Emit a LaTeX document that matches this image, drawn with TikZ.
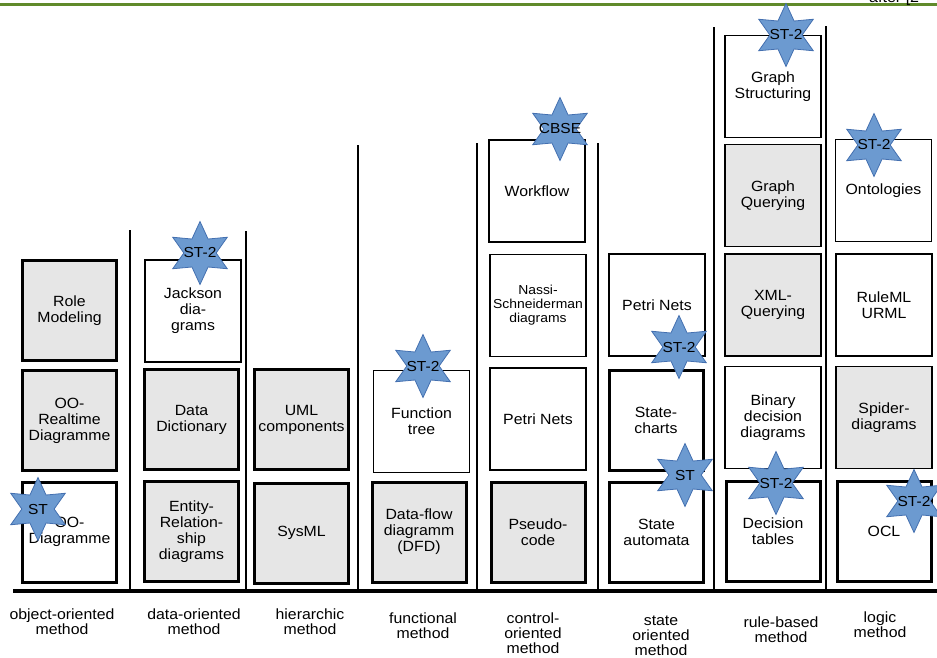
\documentclass[tikz,border=0pt]{standalone}
\usepackage{fontspec}
\setmainfont{Liberation Sans}[FakeStretch=1.07]
\usetikzlibrary{shapes.geometric}

\definecolor{boxgray}{RGB}{230,230,230}
\definecolor{starblue}{RGB}{108,154,208}
\definecolor{starline}{RGB}{68,112,176}
\definecolor{rulegreen}{RGB}{96,138,42}

\tikzset{
	box/.style={draw, align=center, inner sep=0pt, font=\fontsize{14.8}{16}\selectfont},
	thinbox/.style={box, line width=1.1pt, minimum width=96pt, minimum height=102pt},
	boldbox/.style={box, line width=3pt, minimum width=94pt, minimum height=100pt},
	grayfill/.style={fill=boxgray},
	badge/.style={star, star points=6, star point ratio=1.95, minimum size=63pt, inner sep=0pt,
		fill=starblue, draw=starline, line width=0.8pt},
	every label/.style={font=\fontsize{14.5}{15}\selectfont},
	method/.style={align=center, font=\fontsize{14.8}{15}\selectfont},
}

\begin{document}
\begin{tikzpicture}[x=1pt,y=-1pt]
	\useasboundingbox (0,0) rectangle (937,657);
	\draw[rulegreen, line width=2.5pt] (0,4.5) -- (937,4.5);
	\node[anchor=base west, inner sep=0pt, font=\fontsize{15}{16}\selectfont] (aftertxt) at (869,2.5) {after [2};

	% column separators and ground line
	\foreach \x/\ytop in {130/230, 246/231, 358/145, 477/143, 598/143, 714/27, 826/26}
		\draw[line width=2.5pt] (\x,\ytop) -- (\x,591);
	\draw[line width=3.5pt] (13,591) -- (937,591);

	% object-oriented
	\node[boldbox, grayfill] (rolemod) at (69.5,310.5) {Role\\Modeling};
	\node[boldbox, grayfill] (oort) at (69.5,420.5) {OO-\\Realtime\\Diagramme};
	\node[boldbox] (oodiag) at (69.5,532) {OO-\\Diagramme};
	% data-oriented
	\node[thinbox] (jackson) at (193,311) {Jackson\\dia-\\grams};
	\node[boldbox, grayfill] (datadict) at (191.5,419.5) {Data\\Dictionary};
	\node[boldbox, grayfill] (erdiag) at (191.5,531.5) {Entity-\\Relation-\\ship\\diagrams};
	% hierarchic
	\node[boldbox, grayfill] (umlcomp) at (301.5,419.5) {UML\\components};
	\node[boldbox, grayfill] (sysml) at (301.5,533) {SysML};
	% functional
	\node[thinbox] (functree) at (421.5,421.5) {Function\\tree};
	\node[boldbox, grayfill] (dfd) at (419,532) {Data-flow\\diagramm\\(DFD)};
	% control-oriented
	\node[thinbox] (workflow) at (537,191) {Workflow};
	\node[thinbox, font=\fontsize{13}{14}\selectfont] (nassi) at (538,305.5) {Nassi-\\Schneiderman\\diagrams};
	\node[thinbox] (petria) at (538,419) {Petri Nets};
	\node[boldbox, grayfill] (pseudo) at (538,532) {Pseudo-\\code};
	% state oriented
	\node[thinbox] (petrib) at (657,305) {Petri Nets};
	\node[boldbox] (statech) at (656,420) {State-\\charts};
	\node[boldbox] (stateaut) at (656.5,532) {State\\automata};
	% rule-based
	\node[thinbox] (graphstr) at (773,86.5) {Graph\\Structuring};
	\node[thinbox, grayfill] (graphq) at (773,195.5) {Graph\\Querying};
	\node[thinbox, grayfill] (xmlq) at (773,305) {XML-\\Querying};
	\node[thinbox] (bdd) at (773,417.5) {Binary\\decision\\diagrams};
	\node[boldbox] (dectab) at (773,531) {Decision\\tables};
	% logic
	\node[thinbox] (onto) at (883.5,190.5) {Ontologies};
	\node[thinbox] (ruleml) at (884,305) {RuleML\\URML};
	\node[thinbox, grayfill] (spider) at (884,417.5) {Spider-\\diagrams};
	\node[boldbox] (ocl) at (884,531) {OCL};

	% stars
	\node[badge, label=center:ST] (stoo) at (38,509) {};
	\node[badge, label=center:ST-2] (stjack) at (200,253) {};
	\node[badge, label=center:ST-2] (stfunc) at (423,366) {};
	\node[badge, label=center:CBSE] (stcbse) at (560,129) {};
	\node[badge, label=center:ST-2] (stpetri) at (679,347) {};
	\node[badge, label=center:ST] (ststate) at (685,475) {};
	\node[badge, label=center:ST-2] (stgraph) at (786,35) {};
	\node[badge, label=center:ST-2] (stdec) at (776,483) {};
	\node[badge, label=center:ST-2] (stonto) at (874,145) {};
	\node[badge, label=center:ST-2] (stocl) at (914,501) {};

	% method names
	\node[method] (mobj) at (62,622) {object-oriented\\method};
	\node[method] (mdata) at (194,622) {data-oriented\\method};
	\node[method] (mhier) at (310,622) {hierarchic\\method};
	\node[method] (mfunc) at (423,626) {functional\\method};
	\node[method] (mctrl) at (533,633) {control-\\oriented\\method};
	\node[method] (mstate) at (661,636) {state\\oriented\\method};
	\node[method] (mrule) at (781,630) {rule-based\\method};
	\node[method] (mlogic) at (880,625) {logic\\method};
\end{tikzpicture}
\end{document}
